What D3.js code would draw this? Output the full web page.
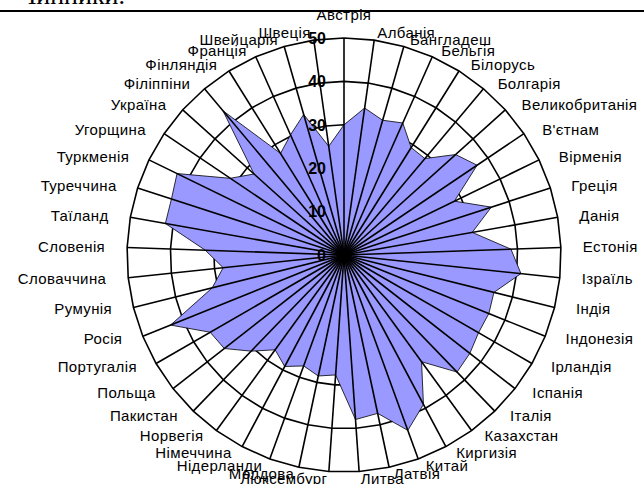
<!DOCTYPE html>
<html>
<head>
<meta charset="utf-8">
<script src="https://cdn.jsdelivr.net/npm/d3@7"></script>
<style>
    body { margin: 0; background: #fff; }
    svg { display: block; }
</style>
</head>
<body>
<div id="radar"></div>
<script>
// Categories (clockwise from the top)
const categories = ["Австрія", "Албанія", "Бангладеш", "Бельгія", "Білорусь", "Болгарія",
    "Великобританія", "В'єтнам", "Вірменія", "Греція", "Данія", "Естонія", "Ізраїль",
    "Індія", "Індонезія", "Ірландія", "Іспанія", "Італія", "Казахстан", "Киргизія",
    "Китай", "Латвія", "Литва", "Люксембург", "Молдова", "Нідерланди", "Німеччина",
    "Норвегія", "Пакистан", "Польща", "Португалія", "Росія", "Румунія", "Словаччина",
    "Словенія", "Таїланд", "Туреччина", "Туркменія", "Угорщина", "Україна", "Філіппіни",
    "Фінляндія", "Франція", "Швейцарія", "Швеція"];

// Series values
const values = [30, 34.2, 32.3, 33.3, 29.2, 29, 34.6, 37, 28.3, 35.7, 30, 38.5, 41,
    35.6, 36, 35.8, 36.8, 37.5, 30.4, 39, 43, 37.3, 38, 27.7, 28.5, 27.2, 29.1,
    27, 30.8, 35, 35.6, 43.1, 31.3, 28, 32, 41.8, 41.8, 42.8, 31.6, 27.9, 43.4,
    27.6, 30.3, 33.7, 25.3];

// Value axis ticks
const ticks = [0, 10, 20, 30, 40, 50];

const titleText = "Чинники.";

const width = 644, height = 484;
const cx = 344, cy = 255;
const outerR = 217;

const svg = d3.select("#radar").append("svg")
    .attr("width", width)
    .attr("height", height);

// Scales
const r = d3.scaleLinear().domain([0, 50]).range([0, outerR]);
const angle = d3.scaleBand().domain(categories).range([0, 2 * Math.PI]).align(0);

// Top heading remnant and rule
svg.append("text")
    .attr("x", 125)
    .attr("y", 4)
    .attr("text-anchor", "end")
    .attr("font-family", "'Liberation Serif', 'Times New Roman', serif")
    .attr("font-size", 26)
    .text(titleText);

svg.append("line")
    .attr("x1", 0).attr("x2", width)
    .attr("y1", 11).attr("y2", 11)
    .attr("stroke", "#000")
    .attr("stroke-width", 2);

const g = svg.append("g").attr("transform", `translate(${cx},${cy})`);

// Gridline polygons
const ring = d3.lineRadial()
    .angle(d => angle(d))
    .curve(d3.curveLinearClosed);

g.append("g")
    .selectAll("path")
    .data(ticks.filter(t => t > 0))
    .join("path")
    .attr("d", t => ring.radius(r(t))(categories))
    .attr("fill", "none")
    .attr("stroke", "#000")
    .attr("stroke-width", 1.6);

// Series area
const area = d3.lineRadial()
    .angle((d, i) => angle(categories[i]))
    .radius(d => r(d))
    .curve(d3.curveLinearClosed);

g.append("path")
    .datum(values)
    .attr("d", area)
    .attr("fill", "#9999ff")
    .attr("stroke", "#000")
    .attr("stroke-width", 0.8);

// Spokes
g.append("g")
    .selectAll("line")
    .data(categories)
    .join("line")
    .attr("x1", 0).attr("y1", 0)
    .attr("x2", d => r(50) * Math.sin(angle(d)))
    .attr("y2", d => -r(50) * Math.cos(angle(d)))
    .attr("stroke", "#000")
    .attr("stroke-width", 1.6);

// Value axis labels
g.append("g")
    .selectAll("text")
    .data(ticks)
    .join("text")
    .attr("x", -18)
    .attr("y", t => -r(t))
    .attr("dy", "0.36em")
    .attr("text-anchor", "end")
    .attr("font-family", "Arial, 'Liberation Sans', sans-serif")
    .attr("font-weight", "bold")
    .attr("font-size", 16)
    .text(t => t);

// Category labels
g.append("g")
    .selectAll("text")
    .data(categories)
    .join("text")
    .attr("x", d => (outerR + 22) * Math.sin(angle(d)))
    .attr("y", d => {
        const a = angle(d);
        if (Math.abs(Math.sin(a)) < 0.01) return -(outerR + 23) * Math.cos(a);
        return -(outerR + 7) * Math.cos(a);
    })
    .attr("dy", "0.35em")
    .attr("text-anchor", d => {
        const s = Math.sin(angle(d));
        return s > 0.01 ? "start" : (s < -0.01 ? "end" : "middle");
    })
    .attr("font-family", "Arial, 'Liberation Sans', sans-serif")
    .attr("font-size", 15)
    .attr("letter-spacing", "0.4px")
    .attr("fill", "#000")
    .text(d => d);
</script>
</body>
</html>
